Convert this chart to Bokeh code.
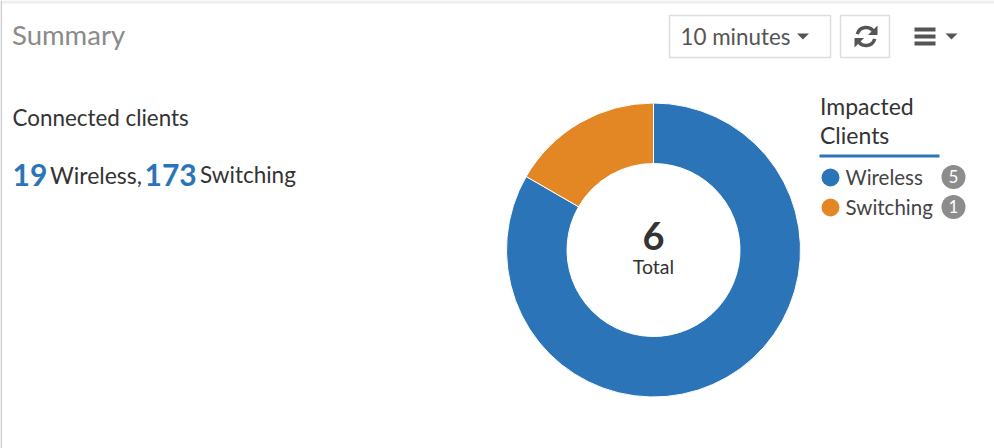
import math
from bokeh.plotting import figure
from bokeh.core.properties import value
from bokeh.embed import file_html
from bokeh.resources import INLINE

# Data
categories = ["Wireless", "Switching"]
impacted = [5, 1]
colors = ["#2b74b8", "#e28723"]
total = 6
connected = [19, 173]
title = "Summary"
range_label = "10 minutes"

W, H = 994, 448
p = figure(width=W, height=H, x_range=(0, W), y_range=(0, H), output_backend="svg",
           toolbar_location=None, min_border=0, margin=0,
           outline_line_color=None, background_fill_color="white", border_fill_color="white")
p.axis.visible = False
p.grid.visible = False

def Y(py):
    return H - py

def text(x, py, s, size, color="#333333", style="normal", align="left", font="Lato"):
    p.text([x], [Y(py)], text=[s], text_font=value(font), text_font_size=f"{size}px",
           text_color=color, text_font_style=style, text_align=align, text_baseline="middle")

def rect(x0, py0, x1, py1, fill, line=None, lw=1):
    p.quad(left=[x0], right=[x1], top=[Y(py0)], bottom=[Y(py1)], fill_color=fill,
           line_color=line, line_width=lw)

def tri(xs, pys, color):
    p.patch(xs, [Y(v) for v in pys], fill_color=color, line_color=None)

# page chrome
rect(0, 0, W, 3, "#eeeeee")
rect(0, 0, 1.5, H, "#cccccc")

# header
text(11.5, 34, title, 27.5, "#8a8a8a")
rect(669, 15, 830, 57, "white", "#dddddd", 1.5)
text(680, 36, range_label, 22.4, "#555555")
tri([796.5, 808.5, 802.5], [33, 33, 39], "#555555")
rect(840, 15, 889, 57, "white", "#dddddd", 1.5)

# refresh icon
cx, cy, r = 865.5, 36, 9
p.arc([cx], [Y(cy)], radius=r, start_angle=math.radians(25), end_angle=math.radians(165),
      line_color="#555555", line_width=3.5)
p.arc([cx], [Y(cy)], radius=r, start_angle=math.radians(205), end_angle=math.radians(345),
      line_color="#555555", line_width=3.5)
tri([877, 877, 867.5], [25, 34.5, 34.5], "#555555")
tri([854, 854, 863.5], [47, 37.5, 37.5], "#555555")

# menu icon
for py in (29, 36, 43):
    rect(914, py - 2, 935, py + 2, "#555555")
tri([945, 957, 951], [33, 33, 39], "#555555")

# left text
text(12, 117, "Connected clients", 22.4)
text(12, 174, str(connected[0]), 30, "#2b74b8", "bold")
text(49.5, 174, "Wireless,", 23)
text(144, 174, str(connected[1]), 30, "#2b74b8", "bold")
text(199.5, 174, "Switching", 22.5)

# donut: clockwise from twelve o'clock
cx, cy = 653, 249.5
start = math.pi / 2
tot = sum(impacted)
for v, c in zip(impacted, colors):
    end = start - 2 * math.pi * v / tot
    p.annular_wedge([cx], [Y(cy)], inner_radius=86.5, outer_radius=147, start_angle=end, end_angle=start,
                    fill_color=c, line_color="white", line_width=1)
    start = end

text(cx, 235, str(total), 38, "#333333", "bold", "center")
text(cx, 266, "Total", 19.5, "#333333", "normal", "center")

# legend
text(819.5, 105, "Impacted", 23)
text(819.5, 134, "Clients", 23)
rect(819, 154, 939, 157, "#2b74b8")
for i, (name, v, c) in enumerate(zip(categories, impacted, colors)):
    py = 177 + 30 * i
    p.circle([830], [Y(py)], radius=9, fill_color=c, line_color=None)
    text(845, py - 0.5, name, 20.5, "#444444")
    p.circle([953], [Y(py - 0.5)], radius=12, fill_color="#8c8c8c", line_color=None)
    text(953, py - 1, str(v), 17, "white", "normal", "center")

open("out.html", "w").write(file_html(p, INLINE))
